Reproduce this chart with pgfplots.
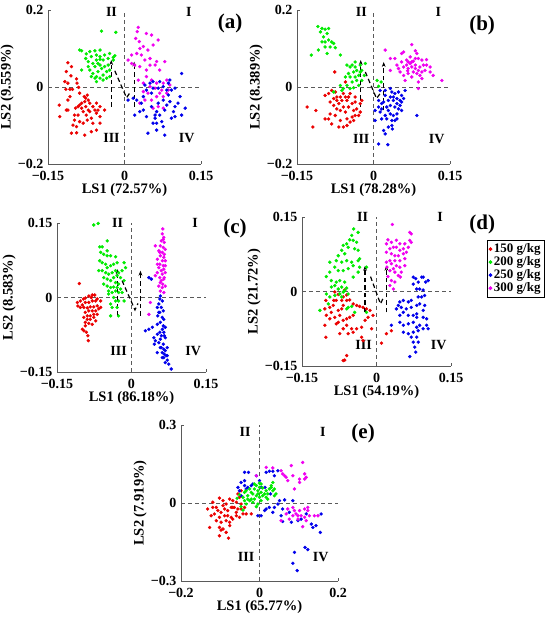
\documentclass[border=0pt]{standalone}
\usepackage{fontspec}
\setmainfont{Liberation Serif}
\usepackage{pgfplots}
\pgfplotsset{compat=1.18}
\usetikzlibrary{arrows.meta}
\definecolor{cR}{RGB}{235,0,0}
\definecolor{cG}{RGB}{0,235,0}
\definecolor{cB}{RGB}{0,0,235}
\definecolor{cM}{RGB}{240,0,240}
\definecolor{axc}{RGB}{90,90,90}
\tikzset{
  zl/.style={dash pattern=on 4pt off 3pt, axc, line width=0.8pt},
  ar/.style={dash pattern=on 4.5pt off 3pt, black, line width=1.2pt},
}
\pgfplotsset{
  panel/.style={scale only axis, axis x line=bottom, axis y line=left,
    axis line style={-,draw=axc,line width=0.8pt}, tick align=inside, major tick length=3pt,
    tick style={axc,line width=0.8pt},
    tick label style={font=\bfseries\fontsize{14}{16}\selectfont, inner sep=0.5pt},
    xticklabel style={yshift=-6pt},
    yticklabel style={xshift=-4pt},
    label style={font=\bfseries\fontsize{14.5}{16}\selectfont},
    xlabel style={yshift=0.5pt},
    clip=false},
  pR/.style={only marks, mark=*, mark size=1.5pt, color=cR},
  pG/.style={only marks, mark=*, mark size=1.5pt, color=cG},
  pB/.style={only marks, mark=*, mark size=1.5pt, color=cB},
  pM/.style={only marks, mark=*, mark size=1.5pt, color=cM},
}
\newcommand{\ql}{\bfseries\fontsize{14}{16}\selectfont}
\newcommand{\pl}{\bfseries\fontsize{21}{24}\selectfont}
\begin{document}
\begin{tikzpicture}
\useasboundingbox (0,0) rectangle (550pt,620pt);
%================ (a)
\begin{axis}[panel, at={(48pt,456pt)}, anchor=south west, width=153pt, height=154pt,
  xmin=-0.15,xmax=0.15,ymin=-0.2,ymax=0.2,
  xtick={-0.15,0,0.15}, xticklabels={−0.15,0,0.15},
  ytick={-0.2,0,0.2}, yticklabels={−0.2,0,0.2},
  xlabel={LS1 (72.57\%)}, ylabel={LS2 (9.559\%)}]
\draw[zl] (axis cs:0,-0.2) -- (axis cs:0,0.2);
\draw[zl] (axis cs:-0.15,0) -- (axis cs:0.15,0);
\addplot[pR] coordinates {(-0.111,0.063)(-0.104,0.053)(-0.114,0.040)(-0.105,0.029)(-0.094,0.021)(-0.111,0.010)(-0.107,-0.006)(-0.115,-0.006)(-0.102,-0.006)(-0.128,-0.047)(-0.107,-0.025)(-0.111,-0.034)(-0.127,-0.077)(-0.111,-0.060)(-0.096,-0.055)(-0.091,-0.051)(-0.088,-0.047)(-0.079,-0.025)(-0.076,-0.029)(-0.071,-0.034)(-0.078,-0.038)(-0.084,-0.042)(-0.068,-0.042)(-0.062,-0.051)(-0.055,-0.042)(-0.048,-0.051)(-0.052,-0.060)(-0.055,-0.068)(-0.068,-0.064)(-0.081,-0.064)(-0.091,-0.073)(-0.098,-0.073)(-0.075,-0.073)(-0.065,-0.081)(-0.062,-0.094)(-0.073,-0.086)(-0.081,-0.094)(-0.088,-0.090)(-0.101,-0.099)(-0.094,-0.103)(-0.104,-0.120)(-0.094,-0.119)(-0.078,-0.125)(-0.065,-0.116)(-0.055,-0.112)(-0.048,-0.094)(-0.071,-0.060)(-0.084,-0.055)(-0.076,-0.051)(-0.093,0.010)(-0.090,-0.001)(-0.117,0.014)(-0.114,-0.060)(-0.098,-0.086)(-0.048,-0.077)(-0.039,-0.060)(-0.073,-0.021)(-0.058,-0.060)(-0.088,-0.016)};
\addplot[pG] coordinates {(-0.088,0.096)(-0.084,0.094)(-0.045,0.145)(-0.017,0.142)(-0.068,0.092)(-0.058,0.094)(-0.048,0.096)(-0.055,0.083)(-0.065,0.079)(-0.076,0.074)(-0.071,0.066)(-0.055,0.070)(-0.048,0.072)(-0.042,0.070)(-0.032,0.074)(-0.022,0.077)(-0.019,0.081)(-0.052,0.061)(-0.058,0.053)(-0.068,0.044)(-0.062,0.035)(-0.055,0.027)(-0.048,0.023)(-0.042,0.031)(-0.035,0.040)(-0.045,0.048)(-0.052,0.040)(-0.039,0.053)(-0.032,0.057)(-0.029,0.044)(-0.042,0.018)(-0.055,0.014)(-0.058,0.023)(-0.065,0.027)(-0.084,0.044)(-0.048,0.057)(-0.071,0.053)(-0.035,0.023)(-0.029,0.027)(-0.022,0.070)(-0.062,0.061)(-0.048,0.079)(-0.039,0.083)(-0.029,0.087)(-0.075,0.086)};
\addplot[pM] coordinates {(0.027,0.155)(0.025,0.144)(0.022,0.126)(0.029,0.118)(0.043,0.139)(0.053,0.135)(0.066,0.122)(0.037,0.105)(0.046,0.096)(0.014,0.083)(0.024,0.087)(0.033,0.083)(0.040,0.070)(0.050,0.074)(0.063,0.066)(0.079,0.066)(0.060,0.057)(0.069,0.044)(0.043,0.044)(0.030,0.053)(0.020,0.057)(0.007,0.070)(0.043,0.027)(0.053,0.018)(0.063,0.010)(0.076,0.010)(0.083,0.018)(0.089,0.005)(0.060,-0.003)(0.069,-0.016)(0.046,-0.016)(0.037,-0.012)(0.056,-0.055)(0.066,-0.051)(0.076,-0.055)(0.040,-0.034)(0.030,-0.042)(0.053,-0.034)(0.063,-0.025)(0.083,-0.016)(0.086,-0.008)(0.050,0.001)(0.027,0.018)(0.037,0.010)(0.014,0.061)(0.056,0.109)(0.030,0.100)(0.050,0.057)(0.076,-0.025)(0.073,-0.008)};
\addplot[pB] coordinates {(0.112,0.035)(0.089,0.018)(0.086,0.010)(0.092,-0.008)(0.099,-0.003)(0.109,-0.025)(0.119,-0.055)(0.112,-0.073)(0.099,-0.077)(0.096,-0.064)(0.083,-0.047)(0.089,-0.038)(0.076,-0.034)(0.066,-0.042)(0.063,-0.064)(0.060,-0.073)(0.063,-0.094)(0.056,-0.094)(0.076,-0.103)(0.079,-0.125)(0.063,-0.112)(0.046,-0.120)(0.043,-0.077)(0.030,-0.064)(0.020,-0.073)(0.033,-0.042)(0.024,-0.034)(0.017,-0.029)(0.007,-0.034)(0.037,-0.025)(0.053,-0.016)(0.056,-0.003)(0.043,-0.008)(0.040,0.005)(0.050,0.010)(0.056,0.014)(0.069,0.014)(0.076,0.001)(0.066,-0.003)(0.083,-0.008)(0.099,-0.051)(0.105,-0.042)(0.092,-0.081)(0.069,-0.073)(0.079,-0.060)(0.060,-0.081)(0.037,-0.060)(0.073,-0.090)(0.086,-0.021)(0.053,-0.051)};
\draw[ar,-{Stealth[length=5pt]}] (axis cs:-0.026,-0.051) -- (axis cs:-0.026,0.070);
\draw[ar,-{Stealth[length=5pt]}] (axis cs:0.019,-0.051) -- (axis cs:0.019,0.066);
\draw[ar] (axis cs:-0.019,0.042) -- (axis cs:0.004,-0.028) -- (axis cs:0.012,-0.012);
\node[font=\ql] at (axis cs:-0.0255,0.196) {II};
\node[font=\ql] at (axis cs:0.126,0.196) {I};
\node[font=\ql] at (axis cs:-0.0255,-0.133) {III};
\node[font=\ql] at (axis cs:0.122,-0.133) {IV};
\node[font=\pl] at (axis cs:0.207,0.164) {(a)};
\end{axis}
%================ (b)
\begin{axis}[panel, at={(297pt,456pt)}, anchor=south west, width=153pt, height=154pt,
  xmin=-0.15,xmax=0.15,ymin=-0.2,ymax=0.2,
  xtick={-0.15,0,0.15}, xticklabels={−0.15,0,0.15},
  ytick={-0.2,0,0.2}, yticklabels={−0.2,0,0.2},
  xlabel={LS1 (78.28\%)}, ylabel={LS2 (8.389\%)}]
\draw[zl] (axis cs:0,-0.2) -- (axis cs:0,0.2);
\draw[zl] (axis cs:-0.15,0) -- (axis cs:0.15,0);
\addplot[pR] coordinates {(-0.130,-0.052)(-0.113,-0.061)(-0.119,-0.104)(-0.095,-0.083)(-0.088,-0.083)(-0.085,-0.070)(-0.095,-0.022)(-0.088,-0.017)(-0.082,-0.009)(-0.075,-0.013)(-0.072,-0.026)(-0.078,-0.030)(-0.085,-0.039)(-0.078,-0.048)(-0.068,-0.043)(-0.062,-0.035)(-0.055,-0.026)(-0.052,-0.035)(-0.059,-0.052)(-0.072,-0.057)(-0.065,-0.061)(-0.055,-0.065)(-0.049,-0.052)(-0.042,-0.043)(-0.036,-0.039)(-0.039,-0.061)(-0.033,-0.057)(-0.036,-0.074)(-0.029,-0.074)(-0.026,-0.065)(-0.042,-0.078)(-0.052,-0.083)(-0.046,-0.091)(-0.039,-0.087)(-0.052,-0.100)(-0.059,-0.104)(-0.068,-0.104)(-0.065,-0.087)(-0.075,-0.074)(-0.082,-0.096)(-0.049,-0.026)(-0.046,-0.017)(-0.059,-0.017)(-0.065,-0.026)(-0.076,0.039)(-0.055,0.013)(-0.036,-0.026)(-0.026,-0.043)(-0.023,-0.035)(-0.072,-0.035)};
\addplot[pG] coordinates {(-0.109,0.157)(-0.101,0.152)(-0.095,0.150)(-0.088,0.152)(-0.104,0.143)(-0.091,0.139)(-0.098,0.130)(-0.095,0.117)(-0.088,0.122)(-0.082,0.117)(-0.078,0.113)(-0.075,0.102)(-0.108,0.096)(-0.122,0.083)(-0.091,0.087)(-0.065,0.083)(-0.085,0.104)(-0.101,0.117)(-0.095,0.104)(-0.052,0.057)(-0.046,0.052)(-0.042,0.057)(-0.036,0.052)(-0.033,0.043)(-0.039,0.039)(-0.049,0.035)(-0.055,0.026)(-0.046,0.026)(-0.036,0.026)(-0.029,0.030)(-0.026,0.039)(-0.023,0.043)(-0.033,0.017)(-0.042,0.013)(-0.052,0.004)(-0.059,-0.004)(-0.046,-0.004)(-0.039,-0.002)(-0.029,0.004)(-0.023,0.017)(-0.018,0.030)(-0.026,0.057)(-0.036,0.065)(-0.016,0.061)(-0.065,0.004)(-0.062,-0.009)(-0.078,-0.013)(0.007,0.017)(0.015,0.013)(0.010,0.002)};
\addplot[pB] coordinates {(0.013,-0.009)(0.023,-0.022)(0.033,-0.004)(0.036,-0.013)(0.042,-0.017)(0.049,-0.013)(0.055,-0.022)(0.059,-0.030)(0.052,-0.035)(0.046,-0.043)(0.039,-0.035)(0.029,-0.035)(0.020,-0.039)(0.010,-0.052)(0.016,-0.057)(0.026,-0.052)(0.033,-0.048)(0.042,-0.052)(0.049,-0.057)(0.052,-0.048)(0.055,-0.061)(0.046,-0.070)(0.039,-0.074)(0.033,-0.070)(0.023,-0.074)(0.013,-0.065)(0.003,-0.061)(0.003,-0.087)(0.016,-0.083)(0.026,-0.083)(0.036,-0.087)(0.042,-0.087)(0.036,-0.100)(0.029,-0.104)(0.020,-0.113)(0.023,-0.122)(0.010,-0.148)(0.028,-0.150)(0.085,-0.074)(0.062,-0.009)(0.033,-0.026)(0.023,-0.009)(0.039,-0.026)(0.046,-0.030)(0.029,-0.061)(0.016,-0.043)(0.046,-0.083)(0.037,-0.109)(0.010,-0.035)(0.055,-0.039)};
\addplot[pM] coordinates {(0.023,0.096)(0.033,0.074)(0.042,0.074)(0.055,0.087)(0.059,0.091)(0.075,0.110)(0.082,0.094)(0.085,0.087)(0.072,0.078)(0.065,0.070)(0.055,0.065)(0.046,0.057)(0.033,0.043)(0.049,0.048)(0.059,0.052)(0.065,0.057)(0.068,0.065)(0.075,0.065)(0.082,0.074)(0.088,0.074)(0.095,0.070)(0.104,0.071)(0.104,0.057)(0.101,0.043)(0.111,0.039)(0.095,0.039)(0.088,0.043)(0.082,0.048)(0.075,0.052)(0.068,0.048)(0.078,0.039)(0.085,0.035)(0.091,0.030)(0.095,0.022)(0.088,0.013)(0.075,0.026)(0.068,0.035)(0.059,0.030)(0.062,0.017)(0.134,0.017)(0.117,0.030)(0.111,0.052)(0.098,0.057)(0.082,0.057)(0.091,0.052)(0.072,0.061)(0.078,0.067)(0.088,-0.004)(0.067,0.042)(0.052,0.039)};
\draw[ar,-{Stealth[length=5pt]}] (axis cs:-0.025,-0.052) -- (axis cs:-0.025,0.070);
\draw[ar,-{Stealth[length=5pt]}] (axis cs:0.020,-0.061) -- (axis cs:0.020,0.065);
\draw[ar] (axis cs:-0.016,0.039) -- (axis cs:0.006,-0.030) -- (axis cs:0.014,-0.015);
\node[font=\ql] at (axis cs:-0.024,0.196) {II};
\node[font=\ql] at (axis cs:0.127,0.196) {I};
\node[font=\ql] at (axis cs:-0.024,-0.135) {III};
\node[font=\ql] at (axis cs:0.124,-0.135) {IV};
\node[font=\pl] at (axis cs:0.213,0.16) {(b)};
\end{axis}
%================ (c)
\begin{axis}[panel, at={(57pt,248pt)}, anchor=south west, width=149pt, height=149pt,
  xmin=-0.15,xmax=0.15,ymin=-0.15,ymax=0.15,
  xtick={-0.15,0,0.15}, xticklabels={−0.15,0,0.15},
  ytick={-0.15,0,0.15}, yticklabels={−0.15,0,0.15},
  xlabel={LS1 (86.18\%)}, ylabel={LS2 (8.583\%)}]
\draw[zl] (axis cs:0,-0.15) -- (axis cs:0,0.15);
\draw[zl] (axis cs:-0.15,0) -- (axis cs:0.15,0);
\addplot[pR] coordinates {(-0.105,0.028)(-0.097,-0.003)(-0.093,-0.001)(-0.086,0.003)(-0.079,0.005)(-0.074,0.005)(-0.069,-0.003)(-0.072,-0.007)(-0.079,-0.007)(-0.086,-0.010)(-0.093,-0.010)(-0.099,-0.015)(-0.108,-0.017)(-0.103,-0.020)(-0.096,-0.020)(-0.089,-0.021)(-0.083,-0.019)(-0.076,-0.019)(-0.069,-0.017)(-0.066,-0.023)(-0.072,-0.027)(-0.079,-0.027)(-0.086,-0.027)(-0.093,-0.030)(-0.089,-0.037)(-0.083,-0.037)(-0.076,-0.040)(-0.083,-0.044)(-0.089,-0.044)(-0.093,-0.050)(-0.086,-0.052)(-0.079,-0.054)(-0.093,-0.057)(-0.099,-0.064)(-0.096,-0.067)(-0.091,-0.070)(-0.087,-0.087)(-0.088,-0.077)(-0.076,-0.034)(-0.103,-0.007)(-0.081,0.000)(-0.109,-0.010)(-0.069,-0.034)(-0.096,-0.040)(-0.072,-0.047)(-0.062,-0.007)(-0.062,-0.020)};
\addplot[pG] coordinates {(-0.076,0.146)(-0.067,0.149)(-0.064,0.102)(-0.059,0.102)(-0.049,0.114)(-0.062,0.091)(-0.056,0.087)(-0.049,0.084)(-0.042,0.084)(-0.032,0.082)(-0.064,0.074)(-0.059,0.070)(-0.052,0.067)(-0.049,0.060)(-0.042,0.064)(-0.036,0.067)(-0.029,0.070)(-0.015,0.070)(-0.066,0.054)(-0.059,0.054)(-0.052,0.050)(-0.046,0.047)(-0.039,0.050)(-0.032,0.054)(-0.026,0.050)(-0.019,0.054)(-0.056,0.040)(-0.049,0.037)(-0.042,0.034)(-0.036,0.040)(-0.029,0.044)(-0.022,0.040)(-0.015,0.034)(-0.049,0.023)(-0.042,0.020)(-0.036,0.021)(-0.029,0.020)(-0.026,0.027)(-0.032,0.030)(-0.046,0.013)(-0.039,0.010)(-0.032,0.013)(-0.026,0.010)(-0.019,0.010)(-0.046,0.007)(-0.036,0.000)(-0.032,-0.007)(-0.026,-0.007)(-0.015,-0.007)(-0.042,-0.013)(-0.039,-0.020)(-0.029,-0.020)(-0.042,-0.037)(-0.026,-0.037)(-0.049,0.094)(-0.012,0.060)(-0.022,0.017)(-0.056,0.027)};
\addplot[pB] coordinates {(0.035,0.040)(0.040,0.037)(0.058,0.003)(0.057,-0.003)(0.062,-0.007)(0.055,-0.013)(0.052,-0.020)(0.060,-0.020)(0.064,-0.027)(0.057,-0.030)(0.053,-0.037)(0.062,-0.040)(0.065,-0.044)(0.058,-0.050)(0.052,-0.054)(0.064,-0.057)(0.068,-0.060)(0.062,-0.064)(0.057,-0.070)(0.065,-0.070)(0.052,-0.074)(0.060,-0.077)(0.068,-0.081)(0.045,-0.081)(0.048,-0.087)(0.055,-0.091)(0.064,-0.094)(0.065,-0.104)(0.060,-0.101)(0.068,-0.107)(0.062,-0.111)(0.066,-0.114)(0.070,-0.117)(0.065,-0.121)(0.072,-0.126)(0.068,-0.131)(0.075,-0.134)(0.080,-0.144)(0.035,-0.064)(0.028,-0.067)(0.042,-0.060)(0.046,-0.094)(0.058,-0.084)(0.072,-0.101)(0.052,-0.111)(0.062,-0.121)(0.055,-0.030)(0.066,-0.077)(0.058,-0.101)(0.072,-0.117)};
\addplot[pM] coordinates {(0.063,0.138)(0.062,0.128)(0.065,0.121)(0.060,0.114)(0.066,0.111)(0.058,0.104)(0.064,0.101)(0.068,0.097)(0.055,0.094)(0.062,0.091)(0.066,0.087)(0.058,0.084)(0.065,0.081)(0.052,0.077)(0.062,0.074)(0.068,0.074)(0.057,0.067)(0.064,0.064)(0.055,0.060)(0.065,0.057)(0.060,0.054)(0.052,0.050)(0.068,0.050)(0.062,0.047)(0.057,0.040)(0.065,0.037)(0.058,0.030)(0.063,0.027)(0.055,0.023)(0.062,0.020)(0.058,0.013)(0.065,0.010)(0.048,0.104)(0.052,0.067)(0.048,0.044)(0.068,0.064)(0.066,0.040)(0.060,0.034)(0.068,0.023)(0.038,-0.010)(0.035,-0.034)(0.064,0.117)(0.057,0.091)};
\draw[ar,-{Stealth[length=5pt]}] (axis cs:-0.028,-0.037) -- (axis cs:-0.028,0.057);
\draw[ar,-{Stealth[length=5pt]}] (axis cs:0.018,-0.037) -- (axis cs:0.018,0.054);
\draw[ar] (axis cs:-0.019,0.034) -- (axis cs:0.007,-0.025) -- (axis cs:0.013,-0.012);
\node[font=\ql] at (axis cs:-0.028,0.150) {II};
\node[font=\ql] at (axis cs:0.128,0.150) {I};
\node[font=\ql] at (axis cs:-0.026,-0.107) {III};
\node[font=\ql] at (axis cs:0.124,-0.107) {IV};
\node[font=\pl] at (axis cs:0.2085,0.140) {(c)};
\end{axis}
%================ (d)
\begin{axis}[panel, at={(302pt,254pt)}, anchor=south west, width=149pt, height=149pt,
  xmin=-0.15,xmax=0.15,ymin=-0.15,ymax=0.15,
  xtick={-0.15,0,0.15}, xticklabels={−0.15,0,0.15},
  ytick={-0.15,0,0.15}, yticklabels={−0.15,0,0.15},
  xlabel={LS1 (54.19\%)}, ylabel={LS2 (21.72\%)},
  legend style={at={(1.242,0.846)}, anchor=north west, draw=black, line width=0.8pt,
    font=\bfseries\fontsize{13}{14}\selectfont, inner sep=1.5pt, row sep=-1.5pt},
  legend cell align=left]
\draw[zl] (axis cs:0,-0.15) -- (axis cs:0,0.15);
\draw[zl] (axis cs:-0.15,0) -- (axis cs:0.15,0);
\addplot[pR] coordinates {(-0.102,-0.018)(-0.104,-0.035)(-0.101,-0.048)(-0.091,-0.042)(-0.094,-0.055)(-0.084,-0.052)(-0.077,-0.038)(-0.070,-0.035)(-0.060,-0.018)(-0.054,-0.017)(-0.067,-0.011)(-0.081,-0.018)(-0.087,-0.028)(-0.074,-0.048)(-0.081,-0.065)(-0.077,-0.062)(-0.067,-0.058)(-0.060,-0.055)(-0.054,-0.052)(-0.047,-0.048)(-0.040,-0.028)(-0.034,-0.030)(-0.027,-0.032)(-0.020,-0.035)(-0.013,-0.038)(-0.017,-0.052)(-0.007,-0.048)(-0.023,-0.058)(-0.030,-0.072)(-0.040,-0.075)(-0.050,-0.075)(-0.060,-0.068)(-0.067,-0.075)(-0.074,-0.085)(-0.057,-0.085)(-0.047,-0.082)(-0.104,-0.068)(-0.102,-0.092)(-0.030,-0.092)(-0.027,-0.099)(-0.010,-0.075)(0.010,-0.104)(0.020,-0.085)(0.030,-0.079)(-0.060,-0.129)(-0.064,-0.138)(-0.067,-0.139)(-0.047,-0.025)(-0.094,-0.032)(-0.067,-0.028)(-0.060,-0.007)(-0.064,0.003)(-0.070,-0.018)(-0.077,-0.006)(-0.084,-0.001)(-0.086,-0.018)};
\addlegendentry{150 g/kg}
\addplot[pG] coordinates {(-0.046,0.126)(-0.037,0.119)(-0.050,0.113)(-0.054,0.104)(-0.047,0.103)(-0.040,0.099)(-0.060,0.096)(-0.067,0.093)(-0.057,0.089)(-0.044,0.086)(-0.037,0.083)(-0.070,0.083)(-0.064,0.076)(-0.077,0.072)(-0.094,0.059)(-0.081,0.062)(-0.070,0.059)(-0.060,0.062)(-0.050,0.059)(-0.037,0.062)(-0.034,0.066)(-0.047,0.052)(-0.057,0.046)(-0.067,0.042)(-0.077,0.042)(-0.084,0.049)(-0.101,0.030)(-0.091,0.022)(-0.081,0.019)(-0.074,0.022)(-0.064,0.019)(-0.084,0.012)(-0.091,0.009)(-0.077,0.005)(-0.070,0.009)(-0.060,0.007)(-0.067,-0.001)(-0.074,-0.005)(-0.084,-0.008)(-0.094,-0.011)(-0.101,-0.005)(-0.057,-0.005)(-0.057,-0.032)(-0.050,-0.030)(-0.060,-0.035)(-0.044,-0.042)(-0.020,-0.042)(-0.114,-0.038)(-0.097,-0.025)(-0.064,0.002)(-0.070,-0.011)(-0.034,0.049)(-0.037,0.039)(-0.020,0.049)(-0.094,0.039)(-0.047,0.029)};
\addlegendentry{200 g/kg}
\addplot[pB] coordinates {(0.074,0.029)(0.079,0.026)(0.091,0.029)(0.094,0.029)(0.099,0.019)(0.104,0.022)(0.084,0.019)(0.074,0.015)(0.081,0.005)(0.087,0.005)(0.094,0.003)(0.084,-0.011)(0.091,-0.011)(0.097,-0.008)(0.070,-0.018)(0.064,-0.021)(0.054,-0.018)(0.047,-0.021)(0.044,-0.028)(0.050,-0.032)(0.060,-0.035)(0.070,-0.032)(0.081,-0.028)(0.087,-0.025)(0.097,-0.028)(0.094,-0.038)(0.081,-0.045)(0.074,-0.048)(0.064,-0.048)(0.054,-0.042)(0.047,-0.048)(0.040,-0.035)(0.030,-0.068)(0.047,-0.062)(0.054,-0.068)(0.064,-0.065)(0.074,-0.062)(0.081,-0.072)(0.087,-0.068)(0.094,-0.075)(0.104,-0.075)(0.101,-0.068)(0.084,-0.079)(0.074,-0.082)(0.070,-0.092)(0.081,-0.092)(0.074,-0.102)(0.077,-0.112)(0.079,-0.122)(0.067,-0.131)(0.064,-0.085)(0.054,-0.082)(0.094,-0.052)(0.101,-0.055)(0.081,-0.052)(0.084,-0.102)};
\addlegendentry{250 g/kg}
\addplot[pM] coordinates {(0.032,0.135)(0.023,0.104)(0.020,0.096)(0.030,0.099)(0.040,0.103)(0.047,0.096)(0.057,0.096)(0.067,0.119)(0.070,0.116)(0.067,0.103)(0.064,0.089)(0.054,0.086)(0.047,0.083)(0.040,0.089)(0.034,0.089)(0.027,0.086)(0.020,0.079)(0.030,0.076)(0.037,0.072)(0.044,0.072)(0.054,0.076)(0.057,0.066)(0.047,0.062)(0.037,0.062)(0.027,0.062)(0.020,0.059)(0.030,0.056)(0.040,0.052)(0.047,0.049)(0.034,0.046)(0.027,0.042)(0.037,0.039)(0.023,0.030)(0.030,0.022)(0.044,0.032)(0.037,0.019)(0.027,0.012)(0.034,0.005)(0.048,0.029)(0.050,0.039)(0.057,0.052)(0.060,0.079)(0.070,0.099)(0.021,0.049)};
\addlegendentry{300 g/kg}
\draw[ar,-{Stealth[length=5pt]}] (axis cs:-0.023,-0.042) -- (axis cs:-0.023,0.052);
\draw[ar,-{Stealth[length=5pt]}] (axis cs:0.020,-0.042) -- (axis cs:0.020,0.052);
\draw[ar] (axis cs:-0.012,0.030) -- (axis cs:0.008,-0.025) -- (axis cs:0.014,-0.012);
\node[font=\ql] at (axis cs:-0.028,0.150) {II};
\node[font=\ql] at (axis cs:0.128,0.150) {I};
\node[font=\ql] at (axis cs:-0.026,-0.107) {III};
\node[font=\ql] at (axis cs:0.125,-0.107) {IV};
\node[font=\pl] at (axis cs:0.213,0.134) {(d)};
\end{axis}
%================ (e)
\begin{axis}[panel, at={(181pt,39pt)}, anchor=south west, width=157pt, height=156pt,
  xmin=-0.2,xmax=0.2,ymin=-0.3,ymax=0.3,
  xtick={-0.2,0,0.2}, xticklabels={−0.2,0,0.2},
  ytick={-0.3,0,0.3}, yticklabels={−0.3,0,0.3},
  xlabel={LS1 (65.77\%)}, ylabel={LS2 (7.919\%)}]
\draw[zl] (axis cs:0,-0.3) -- (axis cs:0,0.3);
\draw[zl] (axis cs:-0.2,0) -- (axis cs:0.2,0);
\addplot[pR] coordinates {(-0.132,-0.023)(-0.119,-0.017)(-0.102,0.019)(-0.093,0.009)(-0.085,-0.004)(-0.076,0.015)(-0.068,0.009)(-0.059,0.003)(-0.051,0.022)(-0.047,-0.004)(-0.106,-0.029)(-0.115,-0.042)(-0.098,-0.036)(-0.089,-0.023)(-0.081,-0.029)(-0.072,-0.017)(-0.064,-0.017)(-0.055,-0.023)(-0.047,-0.023)(-0.042,-0.042)(-0.034,-0.042)(-0.021,-0.042)(-0.102,-0.055)(-0.089,-0.049)(-0.081,-0.049)(-0.072,-0.055)(-0.059,-0.049)(-0.051,-0.055)(-0.085,-0.068)(-0.076,-0.074)(-0.068,-0.062)(-0.098,-0.074)(-0.110,-0.068)(-0.123,-0.049)(-0.127,-0.094)(-0.102,-0.094)(-0.098,-0.104)(-0.093,-0.100)(-0.079,-0.135)(-0.102,-0.126)(-0.085,-0.113)(-0.047,0.047)(-0.055,0.035)(-0.068,-0.017)(-0.076,-0.087)(-0.059,-0.036)(-0.038,-0.017)(-0.110,-0.017)(-0.093,-0.010)(-0.119,0.003)};
\addplot[pB] coordinates {(-0.038,0.118)(-0.028,0.118)(-0.047,0.079)(-0.038,0.067)(-0.034,0.054)(-0.030,0.060)(-0.021,0.067)(-0.038,0.086)(-0.051,0.047)(-0.055,0.060)(-0.047,0.028)(-0.017,0.073)(-0.008,0.105)(0.000,0.086)(0.017,0.118)(0.025,0.122)(0.034,0.122)(0.014,0.060)(0.038,0.105)(0.047,0.124)(0.004,0.060)(-0.004,-0.049)(0.004,-0.049)(0.013,-0.029)(0.025,-0.017)(0.034,-0.036)(0.038,-0.017)(0.047,-0.004)(0.051,0.009)(0.059,-0.023)(0.055,-0.049)(0.059,-0.071)(0.081,-0.074)(0.064,0.012)(0.085,0.009)(0.076,-0.036)(0.098,-0.068)(0.106,-0.062)(0.119,-0.042)(0.132,-0.081)(0.157,-0.042)(0.136,-0.094)(0.144,-0.087)(0.155,-0.113)(0.116,-0.171)(0.123,-0.179)(0.089,-0.190)(0.085,-0.232)(0.096,-0.260)(0.017,-0.023)(0.028,0.035)};
\addplot[pG] coordinates {(-0.057,0.018)(-0.051,0.032)(-0.042,0.022)(-0.038,0.009)(-0.030,0.028)(-0.034,0.047)(-0.025,0.054)(-0.021,0.041)(-0.017,0.035)(-0.013,0.054)(-0.008,0.067)(-0.004,0.047)(0.000,0.060)(0.004,0.073)(0.004,0.041)(0.008,0.028)(0.013,0.035)(0.017,0.047)(0.021,0.035)(0.025,0.054)(0.030,0.060)(0.034,0.047)(0.038,0.028)(0.042,0.035)(0.038,0.054)(0.034,0.079)(0.030,0.067)(0.017,0.022)(0.000,0.022)(-0.013,0.015)(-0.008,0.028)(-0.021,0.015)(-0.004,-0.004)(0.004,0.009)(-0.008,-0.014)(-0.025,0.009)(-0.042,-0.027)(-0.047,-0.014)(-0.034,-0.004)(-0.017,0.003)(-0.030,0.015)(-0.004,0.035)(0.008,0.058)(0.021,0.015)(0.000,0.076)(-0.038,0.041)(-0.013,0.073)};
\addplot[pM] coordinates {(-0.008,0.105)(0.017,0.137)(0.034,0.135)(0.055,0.124)(0.059,0.112)(0.064,0.105)(0.068,0.099)(0.072,0.086)(0.081,0.144)(0.085,0.105)(0.089,0.054)(0.102,0.092)(0.115,0.092)(0.110,0.156)(0.115,0.112)(0.119,0.099)(0.102,0.079)(0.072,-0.023)(0.085,-0.017)(0.093,-0.042)(0.102,-0.029)(0.115,-0.023)(0.106,-0.049)(0.098,-0.062)(0.115,-0.055)(0.123,-0.029)(0.127,-0.049)(0.140,-0.049)(0.149,-0.049)(0.119,-0.068)(0.110,-0.091)(0.098,-0.049)(0.085,-0.049)(0.068,-0.042)(0.076,-0.062)(0.055,-0.068)(0.089,-0.029)(0.123,-0.017)};
\node[font=\ql] at (axis cs:-0.0365,0.275) {II};
\node[font=\ql] at (axis cs:0.1615,0.275) {I};
\node[font=\ql] at (axis cs:-0.034,-0.207) {III};
\node[font=\ql] at (axis cs:0.156,-0.207) {IV};
\node[font=\pl] at (axis cs:0.264,0.269) {(e)};
\end{axis}
\end{tikzpicture}
\end{document}
